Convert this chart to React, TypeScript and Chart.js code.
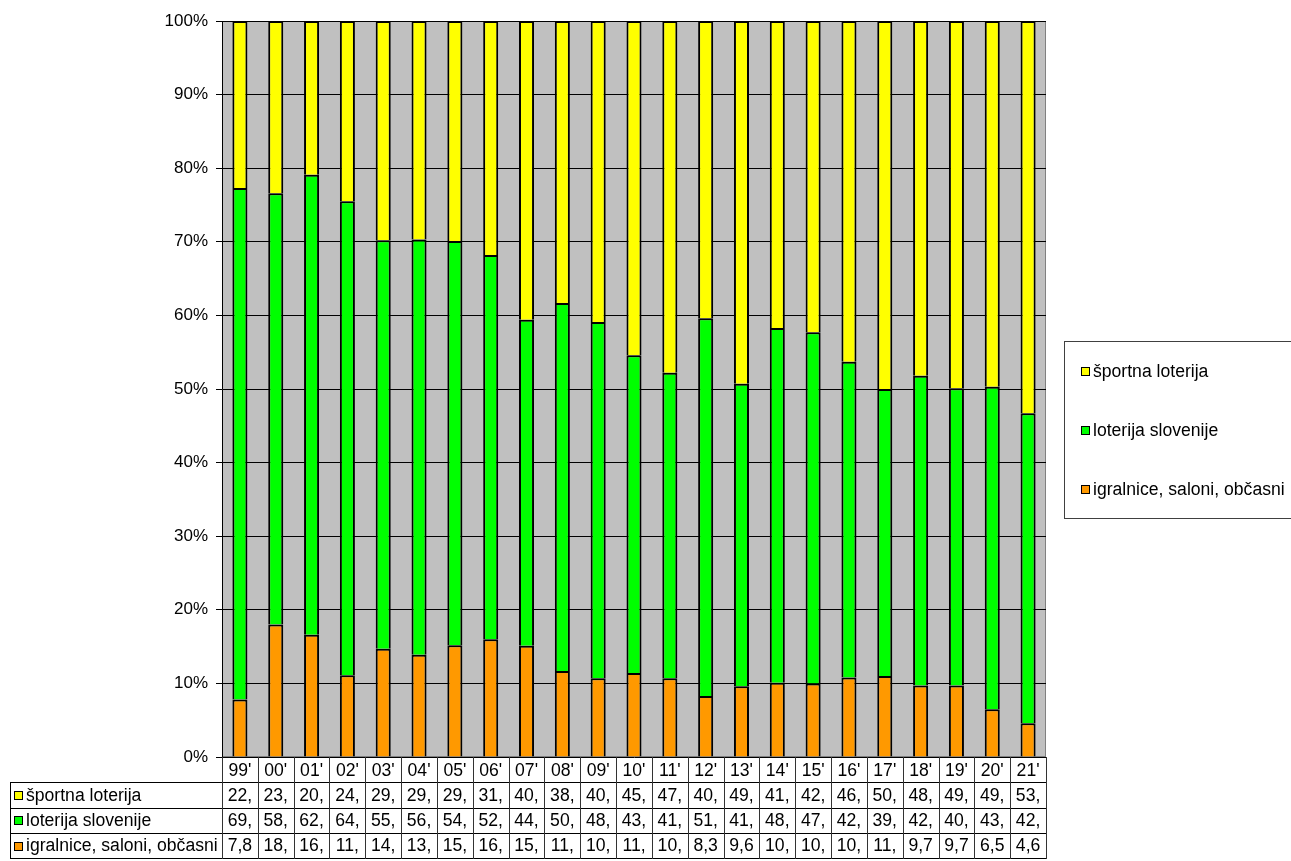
import { useEffect, useRef } from "react";
import { Chart, registerables } from "chart.js";

Chart.register(...registerables);

const categories = ["99'", "00'", "01'", "02'", "03'", "04'", "05'", "06'", "07'", "08'", "09'", "10'", "11'", "12'", "13'", "14'", "15'", "16'", "17'", "18'", "19'", "20'", "21'"];

const sportnaLoterija = [22.7, 23.4, 20.9, 24.5, 29.8, 29.7, 29.9, 31.8, 40.6, 38.3, 40.9, 45.4, 47.8, 40.4, 49.3, 41.7, 42.3, 46.3, 50.0, 48.2, 49.9, 49.7, 53.3];
const loterijaSlovenije = [69.5, 58.6, 62.5, 64.4, 55.5, 56.4, 54.9, 52.2, 44.3, 50.0, 48.4, 43.2, 41.5, 51.3, 41.1, 48.2, 47.7, 42.9, 39.0, 42.1, 40.4, 43.8, 42.1];
const igralnice = [7.8, 18.0, 16.6, 11.1, 14.7, 13.9, 15.2, 16.0, 15.1, 11.7, 10.7, 11.4, 10.7, 8.3, 9.6, 10.1, 10.0, 10.8, 11.0, 9.7, 9.7, 6.5, 4.6];

const seriesLabels = ["športna loterija", "loterija slovenije", "igralnice, saloni, občasni"];
const seriesColors = ["#FFFF00", "#00FF00", "#FF9900"];

const FONT_FAMILY = "'Liberation Sans', Arial, sans-serif";
const FONT = `17.6px ${FONT_FAMILY}`;

const fmt = (v: number) => v.toFixed(1).replace(".", ",").slice(0, 3);

const tableRows = [
  { label: seriesLabels[0], color: seriesColors[0], values: sportnaLoterija },
  { label: seriesLabels[1], color: seriesColors[1], values: loterijaSlovenije },
  { label: seriesLabels[2], color: seriesColors[2], values: igralnice },
];

const bgPlugin = {
  id: "plotBg",
  beforeDraw(chart: any) {
    const { ctx, chartArea: a } = chart;
    ctx.save();
    ctx.fillStyle = "#C0C0C0";
    ctx.fillRect(a.left, a.top, a.right - a.left, a.bottom - a.top);
    ctx.strokeStyle = "#808080";
    ctx.lineWidth = 1;
    ctx.strokeRect(a.left + 0.5, a.top + 0.5, a.right - a.left - 1, a.bottom - a.top - 1);
    ctx.restore();
  },
};

const tablePlugin = {
  id: "dataTable",
  afterDraw(chart: any) {
    const { ctx, chartArea: a } = chart;
    const n = categories.length;
    const colW = (a.right - a.left) / n;
    const rowH = 25.3;
    const top = a.bottom;
    const leftX = 10;
    ctx.save();
    ctx.lineWidth = 1;
    ctx.strokeStyle = "#000000";
    for (let r = 1; r <= 4; r++) {
      const y = Math.round(top + r * rowH) + 0.5;
      ctx.beginPath();
      ctx.moveTo(leftX, y);
      ctx.lineTo(a.right, y);
      ctx.stroke();
    }
    ctx.beginPath();
    ctx.moveTo(leftX + 0.5, Math.round(top + rowH));
    ctx.lineTo(leftX + 0.5, Math.round(top + 4 * rowH) + 1);
    ctx.stroke();
    ctx.strokeStyle = "#333333";
    for (let i = 0; i <= n; i++) {
      const x = Math.round(a.left + i * colW) + 0.5;
      ctx.beginPath();
      ctx.moveTo(x, top);
      ctx.lineTo(x, Math.round(top + 4 * rowH) + 1);
      ctx.stroke();
    }
    ctx.fillStyle = "#000000";
    ctx.font = FONT;
    ctx.textBaseline = "middle";
    ctx.textAlign = "center";
    const xs = chart.scales.x;
    categories.forEach((c, i) => {
      ctx.fillText(c, xs.getPixelForValue(i), top + rowH / 2 + 1);
    });
    tableRows.forEach((row, r) => {
      const yc = top + (r + 1) * rowH + rowH / 2 + 1;
      ctx.textAlign = "center";
      row.values.forEach((v, i) => {
        ctx.fillText(fmt(v), xs.getPixelForValue(i), yc);
      });
      ctx.fillStyle = row.color;
      ctx.fillRect(14, Math.round(yc - 5), 9, 9);
      ctx.strokeStyle = "#000000";
      ctx.strokeRect(14.5, Math.round(yc - 5) + 0.5, 8, 8);
      ctx.fillStyle = "#000000";
      ctx.textAlign = "left";
      ctx.fillText(row.label, 26, yc);
    });
    ctx.restore();
  },
};

const legendPlugin = {
  id: "boxLegend",
  afterDraw(chart: any) {
    const { ctx } = chart;
    ctx.save();
    ctx.strokeStyle = "#404040";
    ctx.lineWidth = 1;
    ctx.strokeRect(1064.5, 341.5, 260, 177);
    ctx.font = FONT;
    ctx.textBaseline = "middle";
    ctx.textAlign = "left";
    const ys = [371, 430, 489];
    tableRows.forEach((row, i) => {
      const y = ys[i];
      ctx.fillStyle = row.color;
      ctx.fillRect(1081, y - 4, 9, 9);
      ctx.strokeStyle = "#000000";
      ctx.strokeRect(1081.5, y - 3.5, 8, 8);
      ctx.fillStyle = "#000000";
      ctx.fillText(row.label, 1093, y + 1);
    });
    ctx.restore();
  },
};

export default function App() {
  const ref = useRef<HTMLCanvasElement | null>(null);
  useEffect(() => {
    document.body.style.margin = "0";
    const canvas = ref.current;
    if (!canvas) return;
    const border = { top: 2, bottom: 0, left: 2, right: 2 };
    const chart = new Chart(canvas, {
      type: "bar",
      data: {
        labels: categories,
        datasets: [
          { label: seriesLabels[2], data: igralnice, backgroundColor: seriesColors[2], borderColor: "#000", borderWidth: border, borderSkipped: false },
          { label: seriesLabels[1], data: loterijaSlovenije, backgroundColor: seriesColors[1], borderColor: "#000", borderWidth: border, borderSkipped: false },
          { label: seriesLabels[0], data: sportnaLoterija, backgroundColor: seriesColors[0], borderColor: "#000", borderWidth: border, borderSkipped: false },
        ],
      },
      options: {
        responsive: false,
        animation: false,
        devicePixelRatio: 1,
        layout: { padding: { top: 21, right: 245, bottom: 0, left: 0 } },
        datasets: { bar: { barPercentage: 0.42, categoryPercentage: 1.0 } },
        plugins: { legend: { display: false }, tooltip: { enabled: false } },
        scales: {
          x: {
            stacked: true,
            grid: { display: false },
            border: { display: false },
            ticks: { display: false },
            afterFit: (s: any) => { s.height = 104; },
          },
          y: {
            stacked: true,
            min: 0,
            max: 100,
            ticks: {
              stepSize: 10,
              padding: 8,
              color: "#000",
              font: { family: FONT_FAMILY, size: 17 },
              callback: (v: any) => `${v}%`,
            },
            grid: { color: "#000", tickLength: 6, lineWidth: 1 },
            border: { display: true, color: "#000" },
            afterFit: (s: any) => { s.width = 222; },
          },
        },
      },
      plugins: [bgPlugin, tablePlugin, legendPlugin],
    } as any);
    return () => chart.destroy();
  }, []);
  return <canvas ref={ref} width={1291} height={861} style={{ display: "block", width: 1291, height: 861 }} />;
}
